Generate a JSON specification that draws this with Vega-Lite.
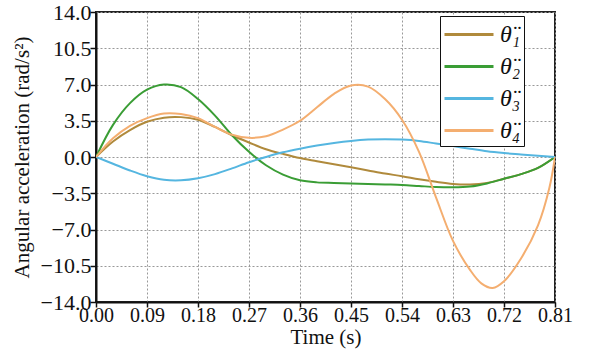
{
  "$schema": "https://vega.github.io/schema/vega-lite/v6.json",
  "width": 459,
  "height": 290,
  "autosize": {"type": "none"},
  "padding": {"left": 96, "top": 12, "right": 41, "bottom": 55},
  "background": "white",
  "config": {
    "font": "Liberation Serif",
    "view": {"stroke": "#222", "strokeWidth": 2},
    "axis": {
      "labelFont": "Liberation Serif",
      "titleFont": "Liberation Serif",
      "domainColor": "#111",
      "domainWidth": 2,
      "tickColor": "#111",
      "tickWidth": 1.5,
      "labelColor": "#111",
      "titleFontSize": 21,
      "titleFontWeight": "normal",
      "titleColor": "#111",
      "gridColor": "#999",
      "gridDash": [2, 2],
      "gridWidth": 1
    },
    "legend": {"labelFont": "Liberation Serif"}
  },
  "data": {
    "values": [
      {"t": 0.00, "s": "a1", "v": 0},
      {"t": 0.03, "s": "a1", "v": 1.5},
      {"t": 0.06, "s": "a1", "v": 2.6},
      {"t": 0.09, "s": "a1", "v": 3.4},
      {"t": 0.12, "s": "a1", "v": 3.8},
      {"t": 0.15, "s": "a1", "v": 3.85},
      {"t": 0.18, "s": "a1", "v": 3.6},
      {"t": 0.21, "s": "a1", "v": 2.9},
      {"t": 0.24, "s": "a1", "v": 2.1},
      {"t": 0.27, "s": "a1", "v": 1.4},
      {"t": 0.30, "s": "a1", "v": 0.75},
      {"t": 0.33, "s": "a1", "v": 0.3},
      {"t": 0.36, "s": "a1", "v": -0.1},
      {"t": 0.39, "s": "a1", "v": -0.4},
      {"t": 0.42, "s": "a1", "v": -0.7},
      {"t": 0.45, "s": "a1", "v": -1.0},
      {"t": 0.48, "s": "a1", "v": -1.3},
      {"t": 0.51, "s": "a1", "v": -1.6},
      {"t": 0.54, "s": "a1", "v": -1.85},
      {"t": 0.57, "s": "a1", "v": -2.15},
      {"t": 0.60, "s": "a1", "v": -2.4},
      {"t": 0.63, "s": "a1", "v": -2.6},
      {"t": 0.66, "s": "a1", "v": -2.65},
      {"t": 0.69, "s": "a1", "v": -2.5},
      {"t": 0.72, "s": "a1", "v": -2.1},
      {"t": 0.75, "s": "a1", "v": -1.65},
      {"t": 0.78, "s": "a1", "v": -1.05},
      {"t": 0.81, "s": "a1", "v": 0},

      {"t": 0.00, "s": "a2", "v": 0},
      {"t": 0.03, "s": "a2", "v": 3.1},
      {"t": 0.06, "s": "a2", "v": 5.2},
      {"t": 0.09, "s": "a2", "v": 6.5},
      {"t": 0.12, "s": "a2", "v": 7.0},
      {"t": 0.15, "s": "a2", "v": 6.75},
      {"t": 0.18, "s": "a2", "v": 5.6},
      {"t": 0.21, "s": "a2", "v": 4.0},
      {"t": 0.24, "s": "a2", "v": 2.1},
      {"t": 0.27, "s": "a2", "v": 0.5},
      {"t": 0.30, "s": "a2", "v": -0.8},
      {"t": 0.33, "s": "a2", "v": -1.7},
      {"t": 0.36, "s": "a2", "v": -2.25},
      {"t": 0.39, "s": "a2", "v": -2.45},
      {"t": 0.42, "s": "a2", "v": -2.5},
      {"t": 0.45, "s": "a2", "v": -2.55},
      {"t": 0.48, "s": "a2", "v": -2.6},
      {"t": 0.51, "s": "a2", "v": -2.65},
      {"t": 0.54, "s": "a2", "v": -2.7},
      {"t": 0.57, "s": "a2", "v": -2.8},
      {"t": 0.60, "s": "a2", "v": -2.9},
      {"t": 0.63, "s": "a2", "v": -2.93},
      {"t": 0.66, "s": "a2", "v": -2.85},
      {"t": 0.69, "s": "a2", "v": -2.55},
      {"t": 0.72, "s": "a2", "v": -2.1},
      {"t": 0.75, "s": "a2", "v": -1.65},
      {"t": 0.78, "s": "a2", "v": -1.05},
      {"t": 0.81, "s": "a2", "v": 0},

      {"t": 0.00, "s": "a3", "v": 0},
      {"t": 0.03, "s": "a3", "v": -0.65},
      {"t": 0.06, "s": "a3", "v": -1.3},
      {"t": 0.09, "s": "a3", "v": -1.85},
      {"t": 0.12, "s": "a3", "v": -2.2},
      {"t": 0.15, "s": "a3", "v": -2.25},
      {"t": 0.18, "s": "a3", "v": -2.05},
      {"t": 0.21, "s": "a3", "v": -1.65},
      {"t": 0.24, "s": "a3", "v": -1.1},
      {"t": 0.27, "s": "a3", "v": -0.5},
      {"t": 0.30, "s": "a3", "v": 0.0},
      {"t": 0.33, "s": "a3", "v": 0.45},
      {"t": 0.36, "s": "a3", "v": 0.8},
      {"t": 0.39, "s": "a3", "v": 1.1},
      {"t": 0.42, "s": "a3", "v": 1.35},
      {"t": 0.45, "s": "a3", "v": 1.55},
      {"t": 0.48, "s": "a3", "v": 1.68},
      {"t": 0.51, "s": "a3", "v": 1.72},
      {"t": 0.54, "s": "a3", "v": 1.68},
      {"t": 0.57, "s": "a3", "v": 1.55},
      {"t": 0.60, "s": "a3", "v": 1.3},
      {"t": 0.63, "s": "a3", "v": 1.05},
      {"t": 0.66, "s": "a3", "v": 0.8},
      {"t": 0.69, "s": "a3", "v": 0.55},
      {"t": 0.72, "s": "a3", "v": 0.38},
      {"t": 0.75, "s": "a3", "v": 0.25},
      {"t": 0.78, "s": "a3", "v": 0.12},
      {"t": 0.81, "s": "a3", "v": 0},

      {"t": 0.00, "s": "a4", "v": 0},
      {"t": 0.03, "s": "a4", "v": 1.8},
      {"t": 0.06, "s": "a4", "v": 3.0},
      {"t": 0.09, "s": "a4", "v": 3.75},
      {"t": 0.12, "s": "a4", "v": 4.2},
      {"t": 0.15, "s": "a4", "v": 4.15},
      {"t": 0.18, "s": "a4", "v": 3.75},
      {"t": 0.21, "s": "a4", "v": 2.9},
      {"t": 0.24, "s": "a4", "v": 2.15},
      {"t": 0.27, "s": "a4", "v": 1.85},
      {"t": 0.30, "s": "a4", "v": 2.0},
      {"t": 0.33, "s": "a4", "v": 2.65},
      {"t": 0.36, "s": "a4", "v": 3.5},
      {"t": 0.39, "s": "a4", "v": 4.8},
      {"t": 0.42, "s": "a4", "v": 6.1},
      {"t": 0.45, "s": "a4", "v": 6.9},
      {"t": 0.48, "s": "a4", "v": 6.8},
      {"t": 0.51, "s": "a4", "v": 5.6},
      {"t": 0.54, "s": "a4", "v": 3.6},
      {"t": 0.57, "s": "a4", "v": 0.5},
      {"t": 0.60, "s": "a4", "v": -3.9},
      {"t": 0.63, "s": "a4", "v": -8.1},
      {"t": 0.66, "s": "a4", "v": -10.9},
      {"t": 0.68, "s": "a4", "v": -12.2},
      {"t": 0.70, "s": "a4", "v": -12.65},
      {"t": 0.72, "s": "a4", "v": -12.0},
      {"t": 0.75, "s": "a4", "v": -9.8},
      {"t": 0.78, "s": "a4", "v": -6.6},
      {"t": 0.80, "s": "a4", "v": -3.0},
      {"t": 0.81, "s": "a4", "v": 0}
    ]
  },
  "mark": {"type": "line", "interpolate": "catmull-rom", "strokeWidth": 2, "clip": true},
  "encoding": {
    "x": {
      "field": "t", "type": "quantitative",
      "scale": {"domain": [0, 0.81], "nice": false, "zero": false},
      "axis": {
        "title": "Time (s)",
        "values": [0, 0.09, 0.18, 0.27, 0.36, 0.45, 0.54, 0.63, 0.72, 0.81],
        "format": ".2f",
        "labelFont": "Liberation Serif",
        "labelFontSize": 20,
        "tickSize": 5,
        "labelPadding": -2,
        "titlePadding": 1,
        "labelFlush": false
      }
    },
    "y": {
      "field": "v", "type": "quantitative",
      "scale": {"domain": [-14, 14], "nice": false},
      "axis": {
        "title": "Angular acceleration (rad/s²)",
        "values": [-14, -10.5, -7, -3.5, 0, 3.5, 7, 10.5, 14],
        "format": ".1f",
        "labelFont": "Liberation Serif",
        "labelFontSize": 22,
        "tickSize": 6,
        "labelPadding": -1,
        "titlePadding": 8,
        "labelFlush": false
      }
    },
    "color": {
      "field": "s", "type": "nominal",
      "scale": {"domain": ["a1", "a2", "a3", "a4"], "range": ["#b08a3c", "#3a9d35", "#55b6e0", "#f4ae70"]},
      "legend": {
        "title": null,
        "orient": "none",
        "legendX": 344,
        "legendY": 4,
        "labelExpr": "{'a1':'θ̈₁','a2':'θ̈₂','a3':'θ̈₃','a4':'θ̈₄'}[datum.label]",
        "labelFont": "Liberation Serif",
        "labelFontStyle": "italic",
        "labelFontSize": 24,
        "labelColor": "#111",
        "symbolType": "M-1,0H2.5",
        "symbolSize": 784,
        "symbolStrokeWidth": 3,
        "rowPadding": 4,
        "strokeColor": "#111",
        "fillColor": "white",
        "padding": 3,
        "labelOffset": 26
      }
    }
  }
}
